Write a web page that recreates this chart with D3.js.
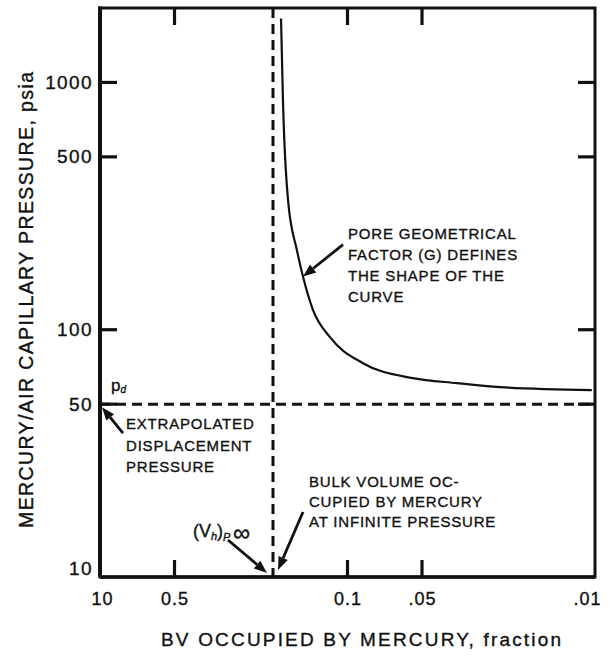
<!DOCTYPE html>
<html>
<head>
<meta charset="utf-8">
<script src="https://cdnjs.cloudflare.com/ajax/libs/d3/7.8.5/d3.min.js"></script>
<style>
body { margin: 0; background: #fff; }
svg text { font-family: "Liberation Sans", Arial, Helvetica, sans-serif; fill: #111; stroke: #111; stroke-width: 0.35px; }
</style>
</head>
<body>
<div id="chart"></div>
<script>
// bulk volume fraction occupied by mercury (x) vs capillary pressure, psia (y)
var bvFraction = [0.1856, 0.1823, 0.1739, 0.160, 0.1513, 0.1378, 0.1177, 0.0866, 0.0544, 0.0361, 0.0242, 0.0103];
var pressure   = [1814,   846,    334,    209,   164,    120,    93.3,   73.2,   63.7,   60.8,   58.6,   57.0];

var displacementPressure = 50;   // p_d
var bvInfinite = 0.2;            // (Vh) at infinite pressure

var xTicks = [1, 0.5, 0.1, 0.05, 0.01];
var xTickLabels = ["10", "0.5", "0.1", ".05", ".01"];
var yTicks = [10, 50, 100, 500, 1000];
var yTickLabels = ["10", "50", "100", "500", "1000"];
var xMarks = [0.5, 0.1, 0.05];
var yMarks = [50, 100, 500, 1000];

var W = 615, H = 656;
var svg = d3.select("#chart").append("svg")
  .attr("width", W).attr("height", H);

var x = d3.scaleLog().domain([1, 0.01]).range([100, 595]);
var y = d3.scaleLog().domain([10, 2000]).range([577, 8]);

var ink = "#111";
var tickLen = 17;

// tick labels through d3 axes
var gx = svg.append("g")
  .attr("transform", "translate(0," + y(10) + ")")
  .call(d3.axisBottom(x).tickValues(xTicks).tickSize(0).tickPadding(15)
    .tickFormat(function(d, i) { return xTickLabels[i]; }));
gx.selectAll("text").style("font-size", "18px").style("letter-spacing", "1px");
gx.selectAll("text").filter(function(d) { return d === 1; }).attr("x", 2);
gx.selectAll("text").filter(function(d) { return d === 0.01; }).attr("text-anchor", "end").attr("x", 6);

var gy = svg.append("g")
  .attr("transform", "translate(" + x(1) + ",0)")
  .call(d3.axisLeft(y).tickValues(yTicks).tickSize(0).tickPadding(7)
    .tickFormat(function(d, i) { return yTickLabels[i]; }));
gy.selectAll("text").style("font-size", "19px").style("letter-spacing", "1.4px");
gy.selectAll("text").filter(function(d) { return d === 10; }).attr("dy", "-0.15em");
svg.selectAll(".domain").remove();
svg.selectAll(".tick line").remove();

// frame
svg.append("rect")
  .attr("x", x(1)).attr("y", y(2000))
  .attr("width", x(0.01) - x(1)).attr("height", y(10) - y(2000))
  .attr("fill", "none").attr("stroke", ink).attr("stroke-width", 3);
svg.append("line")
  .attr("x1", x(1)).attr("x2", x(1)).attr("y1", y(2000) - 1.5).attr("y2", y(10))
  .attr("stroke", ink).attr("stroke-width", 4);
svg.append("line")
  .attr("x1", x(1)).attr("x2", x(0.01)).attr("y1", y(10)).attr("y2", y(10))
  .attr("stroke", ink).attr("stroke-width", 3.5);

// dashed reference lines
svg.append("line")
  .attr("x1", x(1)).attr("x2", x(0.01))
  .attr("y1", y(displacementPressure)).attr("y2", y(displacementPressure))
  .attr("stroke", ink).attr("stroke-width", 3).attr("stroke-dasharray", "10,6");
svg.append("line")
  .attr("x1", x(bvInfinite)).attr("x2", x(bvInfinite))
  .attr("y1", y(2000)).attr("y2", y(10))
  .attr("stroke", ink).attr("stroke-width", 3).attr("stroke-dasharray", "10,6");

// capillary pressure curve
var pts = bvFraction.map(function(v, i) { return [x(v), y(pressure[i])]; });
svg.append("path")
  .attr("d", d3.line().curve(d3.curveMonotoneX)(pts))
  .attr("fill", "none").attr("stroke", ink).attr("stroke-width", 2.2);

// arrows
function arrow(tip, dx, dy) {
  var tail = [tip[0] + dx, tip[1] + dy];
  var ang = Math.atan2(tip[1] - tail[1], tip[0] - tail[0]);
  var hl = 13, hw = 5;
  var bx = tip[0] - hl * Math.cos(ang), by = tip[1] - hl * Math.sin(ang);
  svg.append("line")
    .attr("x1", tail[0]).attr("y1", tail[1]).attr("x2", bx).attr("y2", by)
    .attr("stroke", ink).attr("stroke-width", 2.8);
  svg.append("polygon")
    .attr("points", [
      tip,
      [bx + hw * Math.sin(ang), by - hw * Math.cos(ang)],
      [bx - hw * Math.sin(ang), by + hw * Math.cos(ang)]
    ].map(function(p) { return p.join(","); }).join(" "))
    .attr("fill", ink);
}
arrow([x(1) + 2, y(displacementPressure) + 3], 21, 26);
arrow([x(0.1513), y(164)], 40, -32);
arrow([x(bvInfinite) - 6, y(10) - 4], -39, -33);
arrow([x(bvInfinite) + 5, y(10) - 7], 25, -58);

// annotation text
function block(x0, y0, lines, step) {
  var t = svg.append("g");
  lines.forEach(function(s, i) {
    t.append("text").attr("x", x0).attr("y", y0 + i * step)
      .style("font-size", "15px").style("letter-spacing", "0.8px").text(s);
  });
}
block(x(1) + 26, y(displacementPressure) + 25, ["EXTRAPOLATED", "DISPLACEMENT", "PRESSURE"], 21.5);
block(x(0.1513) + 45, y(164) - 38, ["PORE GEOMETRICAL", "FACTOR (G) DEFINES", "THE SHAPE OF THE", "CURVE"], 21.3);
block(x(bvInfinite) + 36, y(10) - 90, ["BULK VOLUME OC-", "CUPIED BY MERCURY", "AT INFINITE PRESSURE"], 20);

// p_d label
var pd = svg.append("text").attr("x", x(1) + 11).attr("y", y(displacementPressure) - 13)
  .style("font-size", "17px");
pd.append("tspan").text("p");
pd.append("tspan").attr("dy", 2).style("font-size", "10px").style("font-style", "italic").text("d");

// (Vh)P∞ label
var vh = svg.append("text").attr("x", x(bvInfinite) - 80).attr("y", y(10) - 40)
  .style("font-size", "18px");
vh.append("tspan").text("(V");
vh.append("tspan").attr("dy", 3).style("font-size", "11px").style("font-style", "italic").text("h");
vh.append("tspan").attr("dy", -3).text(")");
vh.append("tspan").attr("dy", 4).style("font-size", "11px").style("font-style", "italic").text("P ");
vh.append("tspan").attr("dy", 0).style("font-size", "24px").text("\u221e");

// axis titles
svg.append("text")
  .attr("transform", "translate(33,300) rotate(-90)")
  .attr("text-anchor", "middle")
  .attr("textLength", 456).attr("lengthAdjust", "spacing")
  .style("font-size", "19.5px")
  .text("MERCURY/AIR CAPILLARY PRESSURE, psia");
svg.append("text")
  .attr("x", 361).attr("y", 646)
  .attr("text-anchor", "middle")
  .attr("textLength", 400).attr("lengthAdjust", "spacing")
  .style("font-size", "19px")
  .text("BV OCCUPIED BY MERCURY, fraction");

// inward tick marks on all four sides, drawn last so nothing covers them
var marks = svg.append("g").attr("class", "edge-ticks");
xMarks.forEach(function(d) {
  marks.append("line")
    .attr("x1", x(d)).attr("x2", x(d)).attr("y1", y(10)).attr("y2", y(10) - tickLen)
    .attr("stroke", ink).attr("stroke-width", 3.2);
  marks.append("line")
    .attr("x1", x(d)).attr("x2", x(d)).attr("y1", y(2000)).attr("y2", y(2000) + tickLen)
    .attr("stroke", ink).attr("stroke-width", 3.2);
});
yMarks.forEach(function(d) {
  marks.append("line")
    .attr("x1", x(1)).attr("x2", x(1) + tickLen).attr("y1", y(d)).attr("y2", y(d))
    .attr("stroke", ink).attr("stroke-width", 3.2);
  marks.append("line")
    .attr("x1", x(0.01)).attr("x2", x(0.01) - tickLen).attr("y1", y(d)).attr("y2", y(d))
    .attr("stroke", ink).attr("stroke-width", 3.2);
});
</script>
</body>
</html>
